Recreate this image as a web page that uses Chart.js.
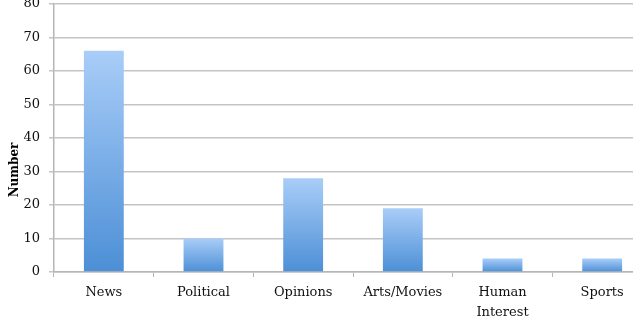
<!DOCTYPE html>
<html>
<head>
<meta charset="utf-8">
<script src="https://cdn.jsdelivr.net/npm/chart.js@4"></script>
<style>
  html, body { margin: 0; padding: 0; background: #ffffff; }
  #wrap { position: relative; width: 633px; height: 320px; overflow: hidden; }
  #c { position: absolute; left: 0; top: -13px; }
</style>
</head>
<body>
<div id="wrap"><canvas id="c" width="652" height="333"></canvas></div>
<script>
const categories = ['News', 'Political', 'Opinions', 'Arts/Movies', ['Human', 'Interest'], 'Sports'];
const counts = [66, 10, 28, 19, 4, 4];
const yTicks = [0, 10, 20, 30, 40, 50, 60, 70, 80];
const yTitle = 'Number';

const FONT = '"DejaVu Serif", "Liberation Serif", serif';

function barGradient(ctx) {
  const chart = ctx.chart;
  if (!chart.chartArea || ctx.type !== 'data') return '#7fb0ea';
  const y = chart.scales.y;
  const top = y.getPixelForValue(ctx.raw);
  const base = y.getPixelForValue(0);
  if (!isFinite(top) || !isFinite(base) || top === base) return '#7fb0ea';
  const g = chart.ctx.createLinearGradient(0, top, 0, base);
  g.addColorStop(0, '#a9cdf8');
  g.addColorStop(1, '#4c8fd6');
  return g;
}

const yTitlePlugin = {
  id: 'yTitlePlugin',
  afterDraw(chart) {
    const c = chart.ctx;
    c.save();
    c.translate(15, 183);
    c.rotate(-Math.PI / 2);
    c.font = 'bold 12px ' + FONT;
    c.fillStyle = '#000000';
    c.textAlign = 'center';
    c.textBaseline = 'middle';
    c.fillText(yTitle, 0, 0);
    c.restore();
  }
};

new Chart(document.getElementById('c'), {
  type: 'bar',
  data: {
    labels: categories,
    datasets: [{
      data: counts,
      backgroundColor: barGradient,
      borderWidth: 0,
      categoryPercentage: 1.0,
      barPercentage: 0.4
    }]
  },
  options: {
    responsive: false,
    animation: false,
    devicePixelRatio: 1,
    layout: { autoPadding: false, padding: { top: 3, left: 0, right: 0, bottom: 0 } },
    plugins: { legend: { display: false }, tooltip: { enabled: false } },
    scales: {
      x: {
        offset: true,
        grid: { display: true, drawOnChartArea: false, drawTicks: true, tickLength: 5, offset: true, color: '#b5b5b5', lineWidth: 1 },
        border: { display: true, color: '#b5b5b5', width: 1.5 },
        ticks: { color: '#111111', font: { family: FONT, size: 13, lineHeight: 1.5 }, padding: 6, maxRotation: 0, autoSkip: false },
        afterFit(s) { s.height = 48; }
      },
      y: {
        min: 0,
        max: 80,
        afterBuildTicks(s) { s.ticks = yTicks.map(v => ({ value: v })); },
        grid: { color: '#c4c4c4', lineWidth: 1.5, tickLength: 5, drawTicks: true },
        border: { display: true, color: '#b5b5b5', width: 1.5 },
        ticks: { color: '#111111', font: { family: FONT, size: 13 }, padding: 9 },
        afterFit(s) { s.width = 54; }
      }
    }
  },
  plugins: [yTitlePlugin]
});
</script>
</body>
</html>
